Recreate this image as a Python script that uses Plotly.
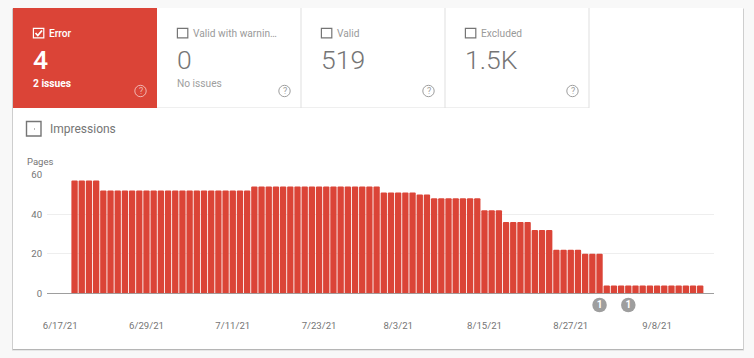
import plotly.graph_objects as go

W, H = 754, 358

# ---- data ----
dates = [
    "2021-06-19","2021-06-20","2021-06-21","2021-06-22","2021-06-23","2021-06-24","2021-06-25","2021-06-26",
    "2021-06-27","2021-06-28","2021-06-29","2021-06-30","2021-07-01","2021-07-02","2021-07-03","2021-07-04",
    "2021-07-05","2021-07-06","2021-07-07","2021-07-08","2021-07-09","2021-07-10","2021-07-11","2021-07-12",
    "2021-07-13","2021-07-14","2021-07-15","2021-07-16","2021-07-17","2021-07-18","2021-07-19","2021-07-20",
    "2021-07-21","2021-07-22","2021-07-23","2021-07-24","2021-07-25","2021-07-26","2021-07-27","2021-07-28",
    "2021-07-29","2021-07-30","2021-07-31","2021-08-01","2021-08-02","2021-08-03","2021-08-04","2021-08-05",
    "2021-08-06","2021-08-07","2021-08-08","2021-08-09","2021-08-10","2021-08-11","2021-08-12","2021-08-13",
    "2021-08-14","2021-08-15","2021-08-16","2021-08-17","2021-08-18","2021-08-19","2021-08-20","2021-08-21",
    "2021-08-22","2021-08-23","2021-08-24","2021-08-25","2021-08-26","2021-08-27","2021-08-28","2021-08-29",
    "2021-08-30","2021-08-31","2021-09-01","2021-09-02","2021-09-03","2021-09-04","2021-09-05","2021-09-06",
    "2021-09-07","2021-09-08","2021-09-09","2021-09-10","2021-09-11","2021-09-12","2021-09-13","2021-09-14",
]
pages = [
    57,57,57,57,
    52,52,52,52,52,52,52,52,52,52,52,52,52,52,52,52,52,52,52,52,52,
    54,54,54,54,54,54,54,54,54,54,54,54,54,54,54,54,54,54,
    51,51,51,51,51,
    50,50,
    48,48,48,48,48,48,48,
    42,42,42,
    36,36,36,36,
    32,32,32,
    22,22,22,22,
    20,20,20,
    4,4,4,4,4,4,4,4,4,4,4,4,4,4,
]
tick_dates = ["2021-06-17","2021-06-29","2021-07-11","2021-07-23","2021-08-03","2021-08-15","2021-08-27","2021-09-08"]
tick_labels = ["6/17/21","6/29/21","7/11/21","7/23/21","8/3/21","8/15/21","8/27/21","9/8/21"]
y_ticks = [0, 20, 40, 60]
event_dates = ["2021-08-31", "2021-09-04"]
event_counts = ["1", "1"]
event_level = [0.5, 0.5]

tile_titles = ["Error", "Valid with warnin…", "Valid", "Excluded"]
tile_values = ["4", "0", "519", "1.5K"]
tile_subs = ["2 issues", "No issues", "", ""]

# ---- style ----
RED = "#DB4437"
FONT = "Roboto, Arial, sans-serif"
GREY = "#757575"

def px(x): return x / W
def py(y): return 1 - y / H

shapes, ann = [], []

def rect(x0, y0, x1, y1, fill=None, line=None, lw=0, layer="below"):
    shapes.append(dict(type="rect", xref="paper", yref="paper", layer=layer,
                       x0=px(x0), x1=px(x1), y0=py(y0), y1=py(y1),
                       fillcolor=fill or "rgba(0,0,0,0)",
                       line=dict(color=line or "rgba(0,0,0,0)", width=lw)))

def text(x, y, s, size, color, anchor="left", weight=None):
    # annotations carry about 2px of internal padding on the left
    xx = x - 2 if anchor == "left" else x
    ann.append(dict(xref="paper", yref="paper", x=px(xx), y=py(y), text=s, showarrow=False,
                    xanchor=anchor, yanchor="middle", align=anchor,
                    font=dict(family=FONT, size=size, color=color,
                              **({"weight": weight} if weight else {}))))

def circle(cx, cy, r, line, lw=1.0):
    shapes.append(dict(type="circle", xref="paper", yref="paper", layer="above",
                       x0=px(cx - r), x1=px(cx + r), y0=py(cy + r), y1=py(cy - r),
                       fillcolor="rgba(0,0,0,0)", line=dict(color=line, width=lw)))

# page and card
rect(0, 0, W, H, fill="#F8F8F8")
rect(12, 8, 744, 351, fill="#E6E6E6")
rect(12.5, 9, 743.5, 350, fill="#B5B5B5")
rect(13, 8, 743, 349, fill="#FFFFFF")

# tiles
tile_w = 144
tile_x0 = 13
for i, (t, v, s) in enumerate(zip(tile_titles, tile_values, tile_subs)):
    x0 = tile_x0 + i * tile_w
    active = i == 0
    if active:
        rect(x0, 8, x0 + tile_w, 108, fill=RED)
    else:
        rect(x0, 107.5, x0 + tile_w, 108, fill="#E0E0E0")
        rect(x0 + tile_w - 0.5, 8, x0 + tile_w + 0.5, 108, fill="#E0E0E0")
    c_title = "#FFFFFF" if active else "#9A9A9A"
    c_val = "#FFFFFF" if active else GREY
    c_sub = "#FFFFFF" if active else "#9E9E9E"
    c_box = "#FFFFFF" if active else "#757575"
    c_help = "rgba(255,255,255,0.6)" if active else "#9E9E9E"
    # checkbox
    rect(x0 + 20.4, 28.4, x0 + 30.8, 37.8, line=c_box, lw=1.2, layer="above")
    if active:
        shapes.append(dict(type="path", xref="paper", yref="paper", layer="above",
                           path=f"M {px(x0+22.5)} {py(33)} L {px(x0+24.8)} {py(35.5)} L {px(x0+29)} {py(30.5)}",
                           line=dict(color="#FFFFFF", width=1.8)))
    text(x0 + 36, 33, t, 10.2, c_title, weight=500 if active else None)
    text(x0 + 19.5, 60, v, 26.5, c_val, weight=500 if active else 300)
    if s:
        text(x0 + 20, 83, s, 10.2, c_sub, weight=700 if active else None)
    circle(x0 + 127.5, 91, 5.7, c_help)
    text(x0 + 127.5, 91, "?", 9, c_help, anchor="center")

# impressions toggle
shapes.append(dict(type="rect", xref="paper", yref="paper", layer="above",
                   x0=px(26.5), x1=px(41), y0=py(136), y1=py(121.5),
                   fillcolor="rgba(0,0,0,0)", line=dict(color="#757575", width=1.4)))
rect(34, 128.5, 35, 129.5, fill="#757575", layer="above")
text(50, 129, "Impressions", 12, GREY)
text(27, 161.5, "Pages", 9.5, GREY)

fig = go.Figure()
fig.add_bar(x=dates, y=pages, marker=dict(color=RED, line=dict(width=0)), width=0.88 * 86400000, hoverinfo="x+y")
fig.add_scatter(x=event_dates, y=event_level, yaxis="y2", mode="markers+text", text=event_counts,
                textposition="middle center", cliponaxis=False,
                marker=dict(size=14.5, color="#9E9E9E"),
                textfont=dict(family=FONT, size=10, color="#FFFFFF", weight=700), hoverinfo="skip")

fig.update_layout(
    width=W, height=H, margin=dict(l=0, r=0, t=0, b=0, pad=0, autoexpand=False), showlegend=False,
    paper_bgcolor="#F8F8F8", plot_bgcolor="rgba(0,0,0,0)",
    barcornerradius=1, shapes=shapes, annotations=ann,
    font=dict(family=FONT, size=10, color=GREY),
    xaxis=dict(domain=[px(47), px(714)], type="date", automargin=False,
               range=["2021-06-15 04:00", "2021-09-15 22:00"],
               tickmode="array", tickvals=tick_dates, ticktext=tick_labels,
               showgrid=False, zeroline=False, showline=False,
               ticks="outside", ticklen=23, tickcolor="rgba(0,0,0,0)",
               tickfont=dict(family=FONT, size=9.6, color=GREY)),
    yaxis=dict(domain=[py(293.3), py(174.6)], range=[0, 60], automargin=False,
               tickmode="array", tickvals=y_ticks,
               showgrid=True, gridcolor="#EEEEEE", gridwidth=1,
               zeroline=True, zerolinecolor="#9E9E9E", zerolinewidth=1,
               showline=False, ticks="outside", ticklen=2, tickcolor="rgba(0,0,0,0)",
               tickfont=dict(family=FONT, size=9.6, color=GREY)),
    yaxis2=dict(domain=[py(315), py(295)], range=[0, 1], anchor="x", visible=False, automargin=False),
)

fig.write_html("out.html", config={"displayModeBar": False},
               post_script="document.body.style.margin='0';document.body.style.overflow='hidden';document.body.style.background='#F8F8F8';")
